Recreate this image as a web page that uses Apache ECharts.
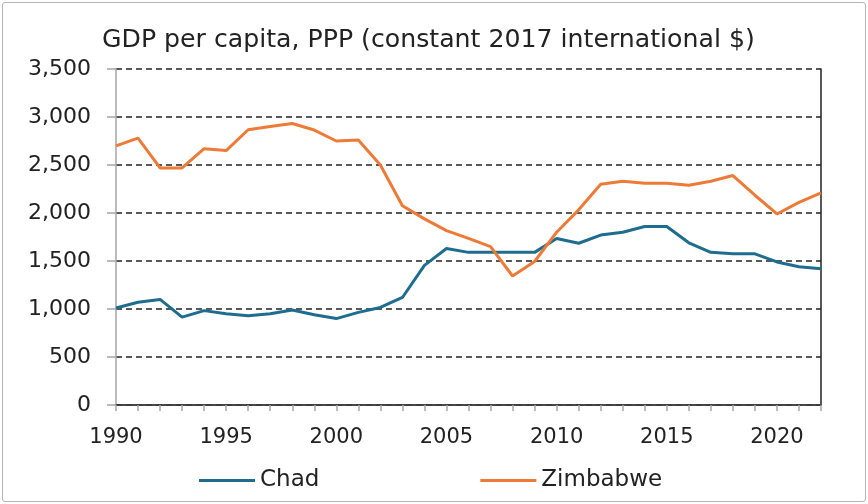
<!DOCTYPE html>
<html>
<head>
<meta charset="utf-8">
<script src="https://cdn.jsdelivr.net/npm/echarts@6/dist/echarts.min.js"></script>
<style>
  html, body { margin: 0; padding: 0; background: #fff; }
  #frame {
    position: absolute; left: 2px; top: 2px; width: 862px; height: 498px;
    border: 1px solid #b5b5b5; border-radius: 3px;
  }
  #chart { position: absolute; left: 0; top: 0; width: 868px; height: 504px; }
</style>
</head>
<body>
<div id="frame"></div>
<div id="chart"></div>
<script>
const years = [
  1990, 1991, 1992, 1993, 1994, 1995, 1996, 1997, 1998, 1999, 2000,
  2001, 2002, 2003, 2004, 2005, 2006, 2007, 2008, 2009, 2010,
  2011, 2012, 2013, 2014, 2015, 2016, 2017, 2018, 2019, 2020, 2021, 2022
];
const chad = [
  1010, 1070, 1100, 915, 983, 950, 930, 950, 990, 940, 900,
  965, 1016, 1120, 1455, 1630, 1590, 1590, 1590, 1590, 1735,
  1685, 1770, 1800, 1860, 1860, 1690, 1590, 1575, 1575, 1490, 1440, 1420
];
const zimbabwe = [
  2700, 2780, 2470, 2470, 2670, 2650, 2867, 2900, 2932, 2864, 2750,
  2760, 2500, 2075, 1939, 1817, 1735, 1649, 1344, 1495, 1800,
  2033, 2300, 2330, 2310, 2310, 2290, 2330, 2390, 2185, 1990, 2110, 2210
];
const yTicks = { min: 0, max: 3500, step: 500 };

const chart = echarts.init(document.getElementById("chart"));
const font = "DejaVu Sans";
const pairs = (vals) => years.map((y, i) => [y, vals[i]]);

const option = {
  animation: false,
  title: {
    text: "GDP per capita, PPP (constant 2017 international $)",
    left: 97,
    top: 23,
    textStyle: { fontFamily: font, fontSize: 25.2, fontWeight: "normal", color: "#222" }
  },
  grid: { left: 116, right: 47, top: 69, bottom: 99 },
  legend: {
    left: 194,
    top: 464,
    itemGap: 161,
    itemWidth: 56,
    itemHeight: 3,
    icon: "rect",
    textStyle: { fontFamily: font, fontSize: 23, color: "#222" },
    data: ["Chad", "Zimbabwe"]
  },
  xAxis: [
    {
      type: "value",
      min: 1990,
      max: 2022,
      interval: 1,
      axisLine: { lineStyle: { color: "#a6a6a6", width: 1.5 } },
      axisTick: { show: true, length: 6, inside: false, lineStyle: { color: "#a6a6a6", width: 1.5 } },
      splitLine: { show: false },
      axisLabel: {
        margin: 22,
        fontFamily: font,
        fontSize: 21,
        color: "#222",
        formatter: (v) => (v % 5 === 0 ? String(v) : "")
      }
    },
    {
      type: "value",
      position: "top",
      min: 1990,
      max: 2022,
      axisLine: { show: true, lineStyle: { color: "#222", width: 1.5 } },
      axisTick: { show: false },
      axisLabel: { show: false },
      splitLine: { show: false }
    }
  ],
  yAxis: [
    {
      type: "value",
      min: yTicks.min,
      max: yTicks.max,
      interval: yTicks.step,
      axisLine: { show: true, lineStyle: { color: "#a6a6a6", width: 1.5 } },
      axisTick: { show: true, length: 9, lineStyle: { color: "#a6a6a6", width: 1.5 } },
      axisLabel: {
        margin: 25,
        fontFamily: font,
        fontSize: 22,
        color: "#222",
        formatter: (v) => v.toLocaleString("en-US")
      },
      splitLine: { lineStyle: { color: "#222", type: [6, 4], width: 1.5 } }
    },
    {
      type: "value",
      position: "right",
      min: yTicks.min,
      max: yTicks.max,
      axisLine: { show: true, lineStyle: { color: "#222", width: 1.5 } },
      axisTick: { show: false },
      axisLabel: { show: false },
      splitLine: { show: false }
    }
  ],
  series: [
    {
      name: "Chad",
      type: "line",
      data: pairs(chad),
      showSymbol: false,
      symbol: "none",
      lineStyle: { color: "#1f6d8e", width: 3 },
      itemStyle: { color: "#1f6d8e" }
    },
    {
      name: "Zimbabwe",
      type: "line",
      data: pairs(zimbabwe),
      showSymbol: false,
      symbol: "none",
      lineStyle: { color: "#ee7a37", width: 3 },
      itemStyle: { color: "#ee7a37" }
    }
  ]
};

chart.setOption(option);
</script>
</body>
</html>
